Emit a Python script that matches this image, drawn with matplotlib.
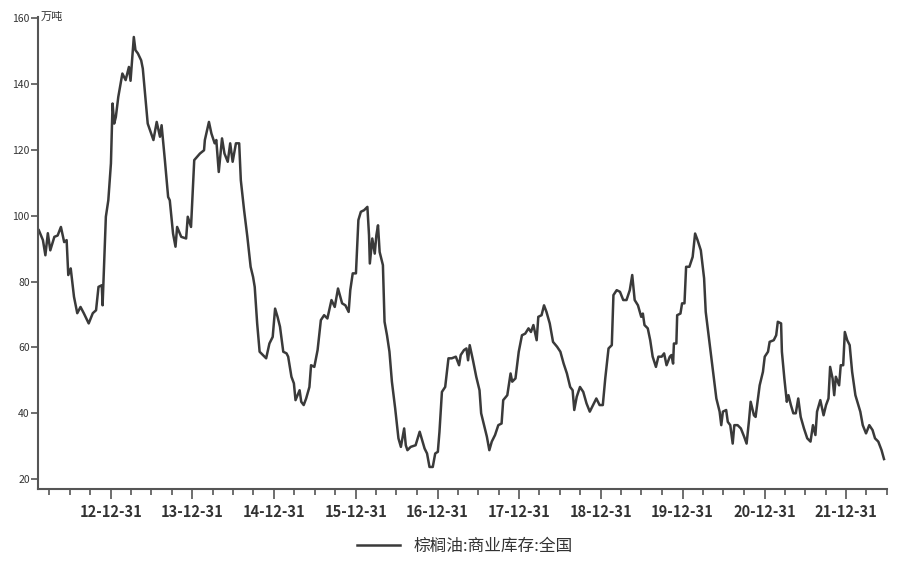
import numpy as np
import pandas as pd
import matplotlib
matplotlib.use('Agg')
from matplotlib import pyplot as plt
import matplotlib.dates as mdates

plt.rcParams['font.family'] = ['Noto Sans CJK SC', 'DejaVu Sans']

# time as decimal years, values in 万吨
years = [
    2012.12, 2012.17, 2012.20, 2012.23, 2012.26, 2012.31, 2012.35, 2012.39, 2012.43, 2012.46,
    2012.48, 2012.51, 2012.55, 2012.59, 2012.63, 2012.67, 2012.73, 2012.78, 2012.82, 2012.85,
    2012.89, 2012.90, 2012.92, 2012.94, 2012.97, 2013.00, 2013.02, 2013.04, 2013.06, 2013.09,
    2013.14, 2013.18, 2013.22, 2013.24, 2013.28, 2013.30, 2013.33, 2013.37, 2013.39, 2013.45,
    2013.52, 2013.56, 2013.60, 2013.62, 2013.66, 2013.70, 2013.72, 2013.76, 2013.79, 2013.81,
    2013.86, 2013.92, 2013.94, 2013.98, 2014.02, 2014.09, 2014.14, 2014.15, 2014.20, 2014.23,
    2014.27, 2014.29, 2014.32, 2014.36, 2014.39, 2014.43, 2014.46, 2014.49, 2014.53, 2014.57,
    2014.59, 2014.63, 2014.67, 2014.71, 2014.74, 2014.76, 2014.79, 2014.82, 2014.86, 2014.90,
    2014.94, 2014.98, 2015.01, 2015.04, 2015.07, 2015.11, 2015.15, 2015.17, 2015.21, 2015.24,
    2015.26, 2015.31, 2015.33, 2015.36, 2015.39, 2015.43, 2015.45, 2015.49, 2015.53, 2015.57,
    2015.61, 2015.65, 2015.70, 2015.74, 2015.78, 2015.83, 2015.87, 2015.91, 2015.93, 2015.96,
    2016.00, 2016.03, 2016.06, 2016.10, 2016.14, 2016.16, 2016.17, 2016.20, 2016.23, 2016.25,
    2016.27, 2016.29, 2016.33, 2016.35, 2016.38, 2016.41, 2016.44, 2016.48, 2016.52, 2016.55,
    2016.59, 2016.61, 2016.63, 2016.67, 2016.73, 2016.78, 2016.81, 2016.84, 2016.87, 2016.90,
    2016.94, 2016.97, 2017.00, 2017.02, 2017.05, 2017.09, 2017.13, 2017.17, 2017.22, 2017.26,
    2017.28, 2017.32, 2017.35, 2017.37, 2017.39, 2017.43, 2017.47, 2017.51, 2017.53, 2017.57,
    2017.60, 2017.63, 2017.66, 2017.70, 2017.74, 2017.78, 2017.80, 2017.85, 2017.89, 2017.91,
    2017.95, 2017.99, 2018.03, 2018.07, 2018.11, 2018.14, 2018.17, 2018.21, 2018.23, 2018.27,
    2018.30, 2018.33, 2018.37, 2018.41, 2018.46, 2018.50, 2018.54, 2018.58, 2018.62, 2018.65,
    2018.67, 2018.70, 2018.74, 2018.78, 2018.82, 2018.86, 2018.90, 2018.94, 2018.98, 2019.02,
    2019.05, 2019.09, 2019.13, 2019.15, 2019.19, 2019.23, 2019.27, 2019.31, 2019.35, 2019.38,
    2019.41, 2019.45, 2019.49, 2019.51, 2019.53, 2019.57, 2019.60, 2019.63, 2019.67, 2019.70,
    2019.74, 2019.77, 2019.80, 2019.84, 2019.86, 2019.88, 2019.89, 2019.92, 2019.93, 2019.97,
    2019.99, 2020.02, 2020.04, 2020.08, 2020.12, 2020.15, 2020.18, 2020.22, 2020.26, 2020.28,
    2020.33, 2020.37, 2020.41, 2020.45, 2020.47, 2020.49, 2020.53, 2020.55, 2020.58, 2020.61,
    2020.63, 2020.67, 2020.71, 2020.75, 2020.78, 2020.81, 2020.83, 2020.87, 2020.89, 2020.94,
    2020.98, 2021.00, 2021.04, 2021.06, 2021.11, 2021.14, 2021.16, 2021.20, 2021.21, 2021.24,
    2021.27, 2021.29, 2021.32, 2021.35, 2021.38, 2021.41, 2021.44, 2021.48, 2021.52, 2021.56,
    2021.59, 2021.62, 2021.64, 2021.68, 2021.72, 2021.75, 2021.78, 2021.80, 2021.83, 2021.85,
    2021.87, 2021.91, 2021.93, 2021.96, 2021.98, 2022.01, 2022.04, 2022.07, 2022.11, 2022.17,
    2022.20, 2022.24, 2022.28, 2022.32, 2022.35, 2022.39, 2022.43, 2022.46,
]
stock = [
    95.6, 92.6, 88.0, 94.7, 89.5, 93.6, 94.0, 96.6, 92.0, 92.6,
    82.0, 84.0, 75.4, 70.4, 72.3, 70.4, 67.3, 70.4, 71.3, 78.4,
    78.9, 72.8, 86.5, 99.7, 104.7, 115.9, 134.1, 128.0, 130.0, 136.1,
    143.2, 141.2, 145.2, 141.0, 154.3, 150.3, 149.3, 147.2, 144.7, 128.0,
    123.0, 128.5, 124.0, 127.5, 116.9, 105.7, 104.7, 94.6, 90.6, 96.6,
    93.6, 93.1, 99.7, 96.6, 116.9, 118.9, 119.9, 123.0, 128.5, 125.0,
    122.0, 123.0, 113.3, 123.5, 118.9, 116.4, 122.0, 116.4, 122.0, 122.0,
    110.8, 101.7, 93.6, 84.5, 81.4, 78.4, 67.3, 58.7, 57.7, 56.7,
    61.2, 63.2, 71.8, 69.3, 66.3, 58.7, 58.2, 57.2, 51.1, 49.1,
    44.0, 47.0, 43.5, 42.5, 44.5, 48.0, 54.6, 54.1, 59.2, 68.3,
    69.8, 68.8, 74.4, 72.3, 77.9, 73.4, 72.8, 70.8, 77.4, 82.5,
    82.5, 98.7, 101.2, 101.7, 102.7, 94.1, 85.5, 93.1, 88.5, 94.1,
    97.1, 89.0, 85.0, 67.8, 63.7, 58.7, 49.6, 41.5, 32.4, 29.8,
    35.4, 30.3, 28.8, 29.8, 30.3, 34.4, 31.9, 29.3, 27.8, 23.7,
    23.7, 27.8, 28.3, 34.4, 46.5, 48.0, 56.7, 56.7, 57.2, 54.6,
    57.7, 59.2, 59.7, 56.1, 60.7, 56.1, 51.1, 47.0, 40.0, 35.9,
    32.9, 28.8, 31.4, 33.4, 36.4, 36.9, 44.0, 45.5, 52.1, 49.6,
    50.6, 58.7, 63.7, 64.2, 65.8, 64.7, 66.8, 62.2, 69.3, 69.8,
    72.8, 70.8, 67.3, 61.7, 60.2, 58.7, 55.1, 52.1, 48.0, 47.0,
    41.0, 45.0, 48.0, 46.5, 43.0, 40.5, 42.5, 44.5, 42.5, 42.5,
    50.6, 59.7, 60.7, 75.9, 77.4, 76.9, 74.4, 74.4, 77.4, 82.0,
    74.4, 72.8, 69.3, 70.3, 66.8, 65.8, 62.2, 57.2, 54.1, 57.2,
    57.2, 58.2, 54.6, 57.2, 57.7, 55.1, 61.2, 61.2, 69.8, 70.3,
    73.4, 73.4, 84.5, 84.5, 87.5, 94.6, 92.6, 89.5, 81.0, 70.8,
    60.7, 52.6, 44.5, 40.5, 36.4, 40.5, 41.0, 37.4, 36.4, 30.8,
    36.4, 36.4, 35.4, 32.9, 30.8, 37.9, 43.5, 39.4, 38.9, 48.5,
    52.6, 57.2, 58.7, 61.7, 62.2, 63.7, 67.8, 67.3, 58.7, 50.6,
    43.5, 45.5, 42.5, 40.0, 40.0, 44.5, 38.9, 35.4, 32.4, 31.4,
    36.4, 33.4, 40.5, 44.0, 39.4, 42.5, 44.5, 54.1, 50.6, 45.5,
    51.1, 48.5, 54.6, 54.6, 64.7, 62.2, 60.7, 52.6, 45.5, 40.5,
    36.4, 33.9, 36.4, 34.9, 32.4, 31.4, 28.8, 26.1,
]
y_ticks = [20, 40, 60, 80, 100, 120, 140, 160]
tick_years = list(range(2012, 2022))
series_name = '棕榈油:商业库存:全国'
unit = '万吨'


def to_date(t):
    y = int(t)
    return pd.Timestamp(y, 1, 1) + pd.Timedelta(days=(t - y) * 365.25)


dates = [to_date(t) for t in years]
line_color = '#3a3a3a'
axis_color = '#555555'

fig = plt.figure(figsize=(8.99, 5.63), dpi=100)
ax = fig.add_axes([0.0423, 0.1314, 0.944, 0.838])

ax.plot(dates, stock, color=line_color, linewidth=1.8, label=series_name)

ax.set_xlim(to_date(2012.11), to_date(2022.465))
ax.set_ylim(17, 160.3)

ax.spines['top'].set_visible(False)
ax.spines['right'].set_visible(False)
for s in ['left', 'bottom']:
    ax.spines[s].set_color(axis_color)
    ax.spines[s].set_linewidth(1.5)

ax.set_yticks(y_ticks)
ax.tick_params(axis='y', direction='out', length=5, width=1.2, color=axis_color,
               labelsize=7.5, labelcolor='#333333', pad=1)

major = [pd.Timestamp(y, 12, 31) for y in tick_years]
ax.set_xticks(major)
ax.set_xticklabels([d.strftime('%y-%m-%d') for d in major])
minor = pd.date_range('2012-03-31', '2022-06-30', freq='QE')
ax.set_xticks(minor, minor=True)
ax.tick_params(axis='x', which='major', direction='out', length=7, width=1.2,
               color=axis_color, labelsize=10.5, labelcolor='#333333', pad=4)
ax.tick_params(axis='x', which='minor', direction='out', length=4, width=1.2,
               color=axis_color)
for lbl in ax.get_xticklabels():
    lbl.set_fontweight('bold')

ax.text(0.003, 1.0, unit, transform=ax.transAxes, fontsize=8, color='#333333',
        ha='left', va='center')

fig.legend(loc='center', bbox_to_anchor=(0.517, 0.03), frameon=False,
           handlelength=2.6, fontsize=12, labelcolor='#333333')

fig.savefig('out.png', dpi=100)
